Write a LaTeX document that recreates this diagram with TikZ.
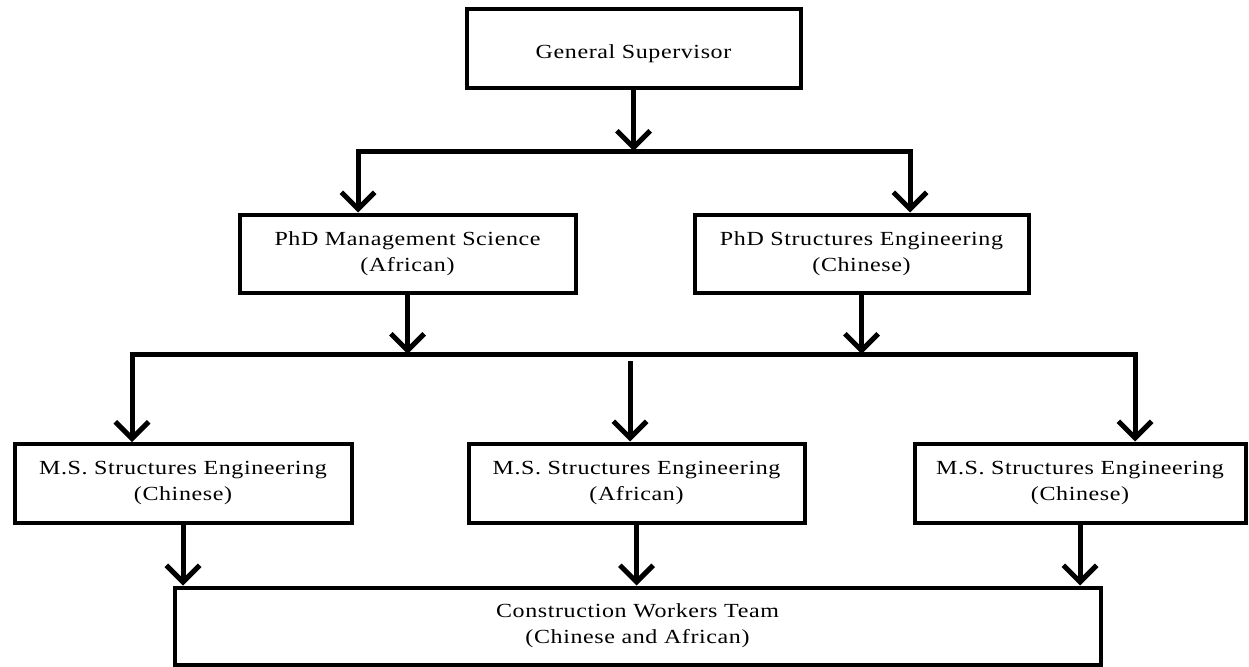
\documentclass[tikz,border=0pt]{standalone}
\usepackage{fontspec}
\setmainfont{Liberation Serif}[FakeStretch=1.2,LetterSpace=3]
\usetikzlibrary{arrows.meta}

\tikzset{every picture/.style={line width=0.75pt}}
\tikzset{
  orgbox/.style={draw, line width=3pt, rectangle, inner sep=0pt, align=center,
    font=\fontsize{15}{19.5}\selectfont,
    execute at begin node={\rule{0pt}{17pt}}},
  boxsize/.style 2 args={minimum width={#1*0.75pt}, minimum height={#2*0.75pt}},
  arr/.style={line width=3.75pt, -{Straight Barb[length=12.5pt,width=25pt]}},
  bar/.style={line width=3.75pt, line cap=rect}
}

\begin{document}
\begin{tikzpicture}[x=0.75pt,y=0.75pt,yscale=-1,xscale=1]
	\useasboundingbox (0,0) rectangle (1249,667);

	% Text Node
	\node [orgbox, boxsize={334}{79}] (gensup) at (633.5,49) {General Supervisor};
	% Text Node
	\node [orgbox, boxsize={336}{78}] (phdmgmt) at (407.5,253.5) {PhD Management Science\\(African)};
	% Text Node
	\node [orgbox, boxsize={334}{78}] (phdstruct) at (861.5,253.5) {PhD Structures Engineering\\(Chinese)};
	% Text Node
	\node [orgbox, boxsize={337}{79}] (msleft) at (183,483.5) {M.S. Structures Engineering\\(Chinese)};
	% Text Node
	\node [orgbox, boxsize={336}{79}] (msmid) at (636.5,483) {M.S. Structures Engineering\\(African)};
	% Text Node
	\node [orgbox, boxsize={331}{79}] (msright) at (1080,483) {M.S. Structures Engineering\\(Chinese)};
	% Text Node
	\node [orgbox, boxsize={926}{77}] (workers) at (637.5,626) {Construction Workers Team\\(Chinese and African)};

	% bar ends
	\coordinate (b1l) at (358,151);
	\coordinate (b1r) at (910,151);
	\coordinate (b2l) at (132,354);
	\coordinate (b2r) at (1135,354);
	\coordinate (b2m) at (630,361);

	%Straight Lines
	\draw [arr] (gensup.south) -- (gensup.south |- b1l);
	\draw [bar] (b1l) -- (b1r);
	\draw [arr] (b1l) -- (b1l |- phdmgmt.north);
	\draw [arr] (b1r) -- (b1r |- phdstruct.north);
	%Straight Lines
	\draw [arr] (phdmgmt.south) -- (phdmgmt.south |- b2l);
	\draw [arr] (phdstruct.south) -- (phdstruct.south |- b2l);
	\draw [bar] (b2l) -- (b2r);
	\draw [arr] (b2l) -- (b2l |- msleft.north);
	\draw [arr] (b2m) -- (b2m |- msmid.north);
	\draw [arr] (b2r) -- (b2r |- msright.north);
	%Straight Lines
	\draw [arr] (msleft.south) -- (msleft.south |- workers.north);
	\draw [arr] (msmid.south) -- (msmid.south |- workers.north);
	\draw [arr] (msright.south) -- (msright.south |- workers.north);

\end{tikzpicture}
\end{document}
